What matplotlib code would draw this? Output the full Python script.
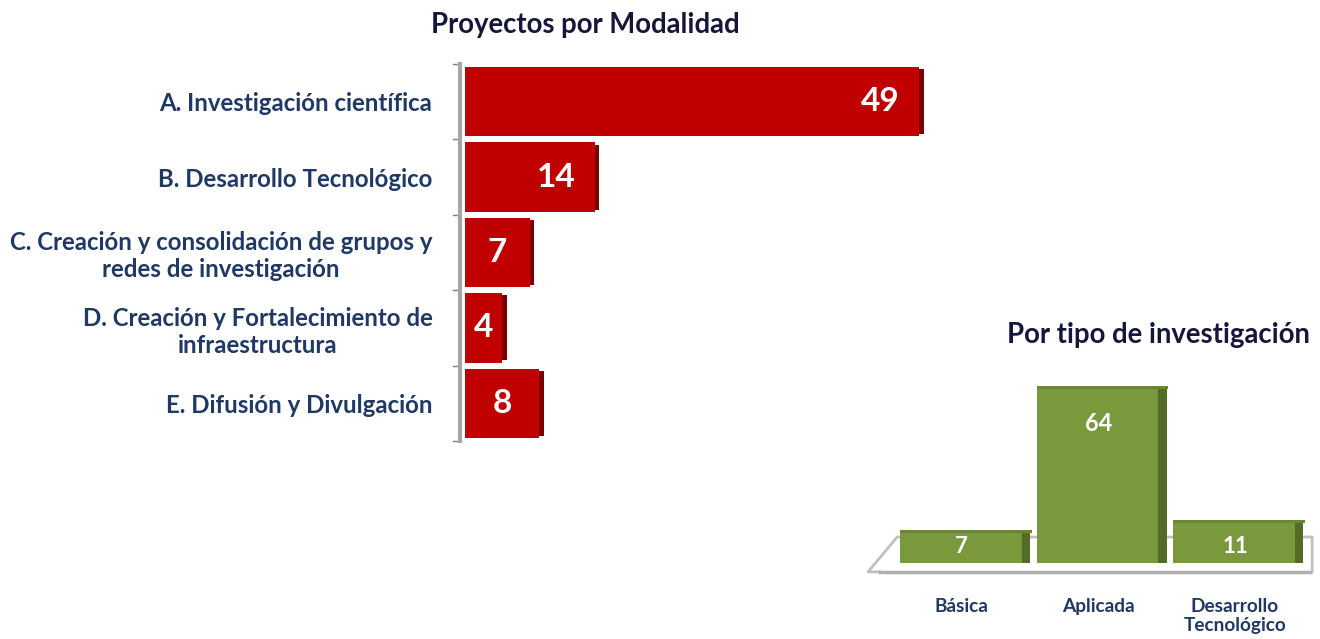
import numpy as np
import matplotlib
matplotlib.use('Agg')
import matplotlib.pyplot as plt

plt.rcParams['font.family'] = ['Lato', 'DejaVu Sans']

# proyectos por modalidad
modalidades = ['A. Investigación científica',
               'B. Desarrollo Tecnológico',
               'C. Creación y consolidación de grupos y\nredes de investigación',
               'D. Creación y Fortalecimiento de\ninfraestructura',
               'E. Difusión y Divulgación']
proyectos = [49, 14, 7, 4, 8]

# por tipo de investigacion
tipos = ['Básica', 'Aplicada', 'Desarrollo\nTecnológico']
cantidad = [7, 64, 11]

navy = '#1F3864'
title_col = '#16163A'
red = '#C00000'
dark_red = '#7A0000'
green = '#7A993C'
dark_green = '#556B2A'
top_green = '#6B8733'

W, H = 1320., 639.
fig = plt.figure(figsize=(13.2, 6.39), dpi=100)

# ---- left chart
ax1 = fig.add_axes([463/W, 1-441/H, (945-463)/W, (441-64)/H])
ax1.spines['left'].set_position(('data', -0.5))   # before ticks, it resets them
y = np.arange(len(proyectos))
ax1.barh(y, proyectos, height=0.92, color=red, zorder=2)
# darker right face for a bit of depth
ax1.barh(y, [0.5]*len(proyectos), left=proyectos, height=0.86, color=dark_red, zorder=2)
ax1.set_ylim(len(proyectos)-0.5, -0.5)
ax1.set_xlim(-0.2, 51.8)
ax1.set_yticks(y)
ax1.set_yticklabels(modalidades, fontsize=17.3, fontweight='bold', color=navy,
                    multialignment='center')
ax1.tick_params(axis='y', length=0, pad=20)
ax1.set_xticks([])
for s in ['top', 'right', 'bottom']:
    ax1.spines[s].set_visible(False)
ax1.spines['left'].set_color('#A6A6A6')
ax1.spines['left'].set_linewidth(3)
for b in np.arange(-0.5, len(proyectos), 1.0):
    ax1.plot([-1.3, -0.5], [b, b], color='#808080', lw=1, clip_on=False)
for i, v in enumerate(proyectos):
    if v >= 10:
        ax1.text(v - 2.1, i, str(v), ha='right', va='center', color='white',
                 fontsize=24, fontweight='bold', zorder=3)
    else:
        ax1.text(v / 2 + 0.0, i, str(v), ha='center', va='center', color='white',
                 fontsize=24, fontweight='bold', zorder=3)
fig.text(585/W, 1-25/H, 'Proyectos por Modalidad', ha='center', va='center',
         fontsize=19.8, fontweight='bold', color=title_col)

# ---- right chart
floor = -6.3
ax2 = fig.add_axes([880/W, 1-563/H, (1310-880)/W, (563-385)/H])
ax2.spines['bottom'].set_position(('axes', -0.05))
x = np.arange(len(cantidad))
alto = np.array(cantidad) - floor
ax2.bar(x, alto, bottom=floor, width=0.9, color=green, zorder=2)
ax2.bar(x + 0.47, alto, bottom=floor, width=0.06, color=dark_green, zorder=2)
ax2.bar(x + 0.03, [1.2]*len(cantidad), bottom=np.array(cantidad) - 1.2, width=0.96,
        color=top_green, zorder=2)
ax2.set_xlim(-0.6, 2.55)
ax2.set_ylim(floor, 64.5)
ax2.set_yticks([])
ax2.set_xticks(x)
ax2.set_xticklabels(tipos, fontsize=13.7, fontweight='bold', color=navy,
                    multialignment='center', linespacing=1.1)
ax2.tick_params(axis='x', length=0, pad=19)
for s in ['top', 'right', 'left']:
    ax2.spines[s].set_visible(False)
ax2.spines['bottom'].set_color('#B0B0B0')
ax2.spines['bottom'].set_linewidth(2.5)
# floor outline (gray plane behind the bars)
ax2.plot([0.0, -0.028, 0.04, 1.005, 1.005], [-0.05, -0.05, 0.146, 0.146, -0.05],
         transform=ax2.transAxes, color='#C0C0C0', lw=2, clip_on=False, zorder=1)
for i, v in enumerate(cantidad):
    if v > 30:
        ax2.text(i, v - 15, str(v), ha='center', va='center', color='white',
                 fontsize=17, fontweight='bold', zorder=3)
    else:
        ax2.text(i, floor + 6.5, str(v), ha='center', va='center', color='white',
                 fontsize=16, fontweight='bold', zorder=3)
fig.text(1158/W, 1-335/H, 'Por tipo de investigación', ha='center', va='center',
         fontsize=19.8, fontweight='bold', color=title_col)

plt.savefig('out.png', dpi=100)
